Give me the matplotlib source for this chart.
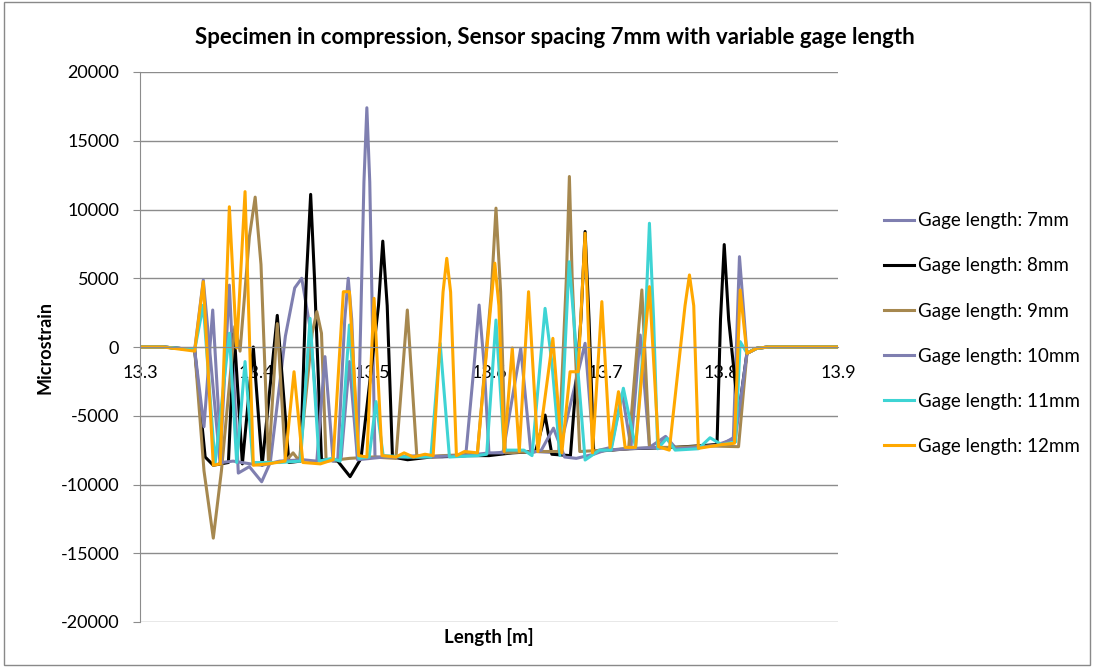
import matplotlib
matplotlib.use("Agg")
import matplotlib.pyplot as plt
from matplotlib.patches import Rectangle

plt.rcParams['font.family'] = ['Lato', 'DejaVu Sans']

# ---------------- data ----------------
x_7mm = [13.300, 13.320, 13.347, 13.3544, 13.3688, 13.3768, 13.3845, 13.394, 13.4046, 13.412,
         13.425, 13.433, 13.439, 13.446, 13.4557, 13.470, 13.476, 13.479, 13.482, 13.487,
         13.4925, 13.495, 13.4975, 13.502, 13.520, 13.540, 13.560, 13.580, 13.587, 13.5915,
         13.596, 13.600, 13.615, 13.640, 13.660, 13.6826, 13.690, 13.705, 13.7145, 13.722,
         13.730, 13.738, 13.7518, 13.760, 13.780, 13.800, 13.810, 13.8153, 13.8217, 13.830,
         13.840, 13.900]
y_7mm = [0, 0, -200, 4870, -8450, 4500, -9170, -8700, -9800, -8400,
         800, 4300, 5000, 1500, -8300, -8200, 2000, 5000, 2000, -8100,
         12000, 17400, 12000, -8000, -8000, -7900, -8000, -7900, -1500, 3050,
         -1500, -7800, -7600, -7600, -7700, 270, -7600, -7300, -3350, -7300,
         870, -7300, -6500, -7300, -7300, -7000, -6700, 6570, -460, -100,
         0, 0]

x_8mm = [13.300, 13.320, 13.347, 13.356, 13.363, 13.376, 13.381, 13.388, 13.3974, 13.405,
         13.418, 13.428, 13.438, 13.443, 13.4467, 13.450, 13.456, 13.470, 13.4806, 13.490,
         13.505, 13.5087, 13.5125, 13.517, 13.530, 13.550, 13.580, 13.600, 13.620, 13.640,
         13.6482, 13.654, 13.670, 13.679, 13.6826, 13.686, 13.690, 13.720, 13.760, 13.796,
         13.799, 13.8022, 13.806, 13.8145, 13.8217, 13.830, 13.840, 13.900]
y_8mm = [0, 0, -200, -8000, -8600, -8400, 1000, -8500, 0, -8600,
         2300, -8400, -8300, 5000, 11100, 5000, -8200, -8300, -9430, -8100,
         3000, 7700, 3000, -8000, -8200, -8000, -7900, -7900, -7700, -7600,
         -4950, -7800, -7900, 2000, 8400, 2000, -7600, -7400, -7300, -7100,
         2000, 7450, 2000, -4900, -460, -100, 0, 0]

x_9mm = [13.300, 13.320, 13.347, 13.355, 13.363, 13.370, 13.3815, 13.386, 13.394, 13.399,
         13.404, 13.4105, 13.418, 13.425, 13.4316, 13.437, 13.448, 13.452, 13.456, 13.460,
         13.480, 13.500, 13.520, 13.5298, 13.538, 13.560, 13.590, 13.602, 13.606, 13.610,
         13.614, 13.640, 13.660, 13.6665, 13.6691, 13.6715, 13.678, 13.700, 13.720, 13.7314,
         13.738, 13.760, 13.790, 13.8145, 13.8217, 13.830, 13.840, 13.900]
y_9mm = [0, 0, -200, -9000, -13900, -9000, 1500, -300, 8000, 10900,
         6000, -8500, 1700, -8300, -7700, -8300, 1000, 2570, 1000, -8300,
         -8100, -8000, -8100, 2690, -8000, -7900, -7800, 4000, 10100, 4000,
         -7700, -7600, -7600, 5000, 12400, 5000, -7600, -7500, -7400, 4150,
         -7300, -7300, -7200, -7250, -460, -100, 0, 0]

x_10mm = [13.300, 13.320, 13.347, 13.355, 13.3625, 13.370, 13.380, 13.395, 13.405, 13.420,
          13.440, 13.452, 13.459, 13.466, 13.473, 13.480, 13.487, 13.510, 13.540, 13.580,
          13.600, 13.612, 13.6273, 13.636, 13.645, 13.6554, 13.665, 13.675, 13.690, 13.700,
          13.720, 13.745, 13.752, 13.760, 13.780, 13.800, 13.812, 13.8217, 13.830, 13.840,
          13.900]
y_10mm = [0, 0, -200, -5800, 2690, -8400, -8300, -8500, -8600, -8300,
          -8200, -8300, -700, -8300, -8000, -1060, -8200, -8000, -8000, -7900,
          -7700, -7700, -100, -7700, -7500, -5900, -8000, -8100, -7800, -7500,
          -7400, -7300, -6600, -7400, -7300, -7100, -6500, -460, -100, 0,
          0]

x_11mm = [13.300, 13.320, 13.347, 13.3544, 13.3645, 13.3768, 13.3831, 13.3903, 13.397, 13.420,
          13.438, 13.4462, 13.454, 13.465, 13.472, 13.480, 13.488, 13.497, 13.5029, 13.509,
          13.530, 13.550, 13.558, 13.566, 13.590, 13.598, 13.606, 13.613, 13.630, 13.637,
          13.6482, 13.654, 13.661, 13.6689, 13.6826, 13.695, 13.705, 13.7155, 13.726, 13.7345,
          13.7379, 13.7415, 13.745, 13.7529, 13.760, 13.780, 13.790, 13.800, 13.812, 13.8159,
          13.8217, 13.830, 13.840, 13.900]
y_11mm = [0, 0, -200, 3050, -8500, 1000, -8400, -1060, -8400, -8400,
          -8300, 2080, -8300, -8100, -8300, 1600, -8100, -8000, -3970, -7900,
          -8000, -8000, 270, -8000, -7900, -7800, 1960, -7500, -7500, -7900,
          2810, -1100, -7900, 6200, -8220, -7500, -7500, -3000, -7300, 2000,
          9000, 2000, -7400, -6640, -7500, -7400, -6600, -7100, -6900, 390,
          -430, -100, 0, 0]

x_12mm = [13.300, 13.320, 13.347, 13.3544, 13.363, 13.369, 13.3768, 13.3831, 13.3903, 13.3974,
          13.410, 13.4247, 13.4324, 13.440, 13.455, 13.466, 13.4748, 13.480, 13.488, 13.495,
          13.5012, 13.508, 13.520, 13.527, 13.535, 13.545, 13.552, 13.5605, 13.5637, 13.567,
          13.572, 13.579, 13.590, 13.6015, 13.605, 13.6085, 13.613, 13.620, 13.626, 13.634,
          13.642, 13.6549, 13.6626, 13.6697, 13.6766, 13.6826, 13.689, 13.697, 13.704, 13.7113,
          13.717, 13.726, 13.7379, 13.7457, 13.755, 13.7685, 13.7723, 13.776, 13.780, 13.800,
          13.811, 13.8159, 13.8217, 13.830, 13.840, 13.900]
y_12mm = [0, 0, -300, 4750, -8600, -8500, 10200, -70, 11300, -8600,
          -8500, -8300, -1800, -8400, -8500, -8200, 4020, 4020, -7900, -8000,
          3540, -7900, -8000, -7700, -8000, -7800, -7900, 4000, 6450, 4000,
          -7900, -7600, -7700, 3000, 6100, 3000, -7600, -70, -7600, 4020,
          -7600, 630, -7700, -1800, -1800, 8270, -7700, 3300, -7300, -3250,
          -7300, -7300, 4390, -7250, -7500, 3000, 5240, 3000, -7370, -7100,
          -7000, 4150, -460, -100, 0, 0]

series_labels = ["Gage length: 7mm", "Gage length: 8mm", "Gage length: 9mm",
                 "Gage length: 10mm", "Gage length: 11mm", "Gage length: 12mm"]
x_ticks = [13.3, 13.4, 13.5, 13.6, 13.7, 13.8, 13.9]
x_tick_labels = ["13.3", "13.4", "13.5", "13.6", "13.7", "13.8", "13.9"]
y_ticks = [-20000, -15000, -10000, -5000, 0, 5000, 10000, 15000, 20000]
title = "Specimen in compression, Sensor spacing 7mm with variable gage length"

colors = ["#7F7FB0", "#000000", "#A6884F", "#7F7FB0", "#3ED4D4", "#FFA800"]

# ---------------- figure ----------------
W, H = 1093, 667
fig = plt.figure(figsize=(W / 100, H / 100), dpi=100)
fig.patches.append(Rectangle((4 / W, 2 / H), 1086 / W, 663 / H, transform=fig.transFigure,
                             fill=False, edgecolor="#898989", linewidth=1.0))

ax = fig.add_axes([140 / W, 45 / H, 698 / W, 550 / H])
xs = [x_7mm, x_8mm, x_9mm, x_10mm, x_11mm, x_12mm]
ys = [y_7mm, y_8mm, y_9mm, y_10mm, y_11mm, y_12mm]
for xv, yv, c, lab in zip(xs, ys, colors, series_labels):
    ax.plot(xv, yv, color=c, lw=2.2, label=lab, solid_joinstyle="round")

ax.set_xlim(13.3, 13.9)
ax.set_ylim(-20000, 20000)
ax.set_xticks(x_ticks)
ax.set_xticklabels(x_tick_labels)
ax.set_yticks(y_ticks)
ax.set_yticklabels([str(v) for v in y_ticks])
ax.yaxis.grid(True, color="#8C8C8C", lw=1.0)
ax.set_axisbelow(True)
for s in ["top", "right"]:
    ax.spines[s].set_visible(False)
ax.spines["left"].set_color("#8C8C8C")
ax.spines["bottom"].set_position(("data", 0))
ax.spines["bottom"].set_color("#8C8C8C")
ax.tick_params(axis="y", length=5, color="#8C8C8C", labelsize=13, pad=10)
ax.tick_params(axis="x", length=0, labelsize=13, pad=13)

fig.text(555 / W, 1 - 38 / H, title, ha="center", va="center", fontsize=16, fontweight="bold")
fig.text(45 / W, 1 - 347 / H, "Microstrain", ha="center", va="center", rotation=90,
         fontsize=13, fontweight="bold")
fig.text(489 / W, 1 - 637 / H, "Length [m]", ha="center", va="center", fontsize=13.5,
         fontweight="bold")

leg = ax.legend(loc="upper left", bbox_to_anchor=(875 / W, 1 - 203 / H),
                bbox_transform=fig.transFigure, frameon=False, fontsize=13.5,
                handlelength=1.6, handletextpad=0.2, labelspacing=1.5, borderpad=0)

fig.savefig("out.png", dpi=100)
